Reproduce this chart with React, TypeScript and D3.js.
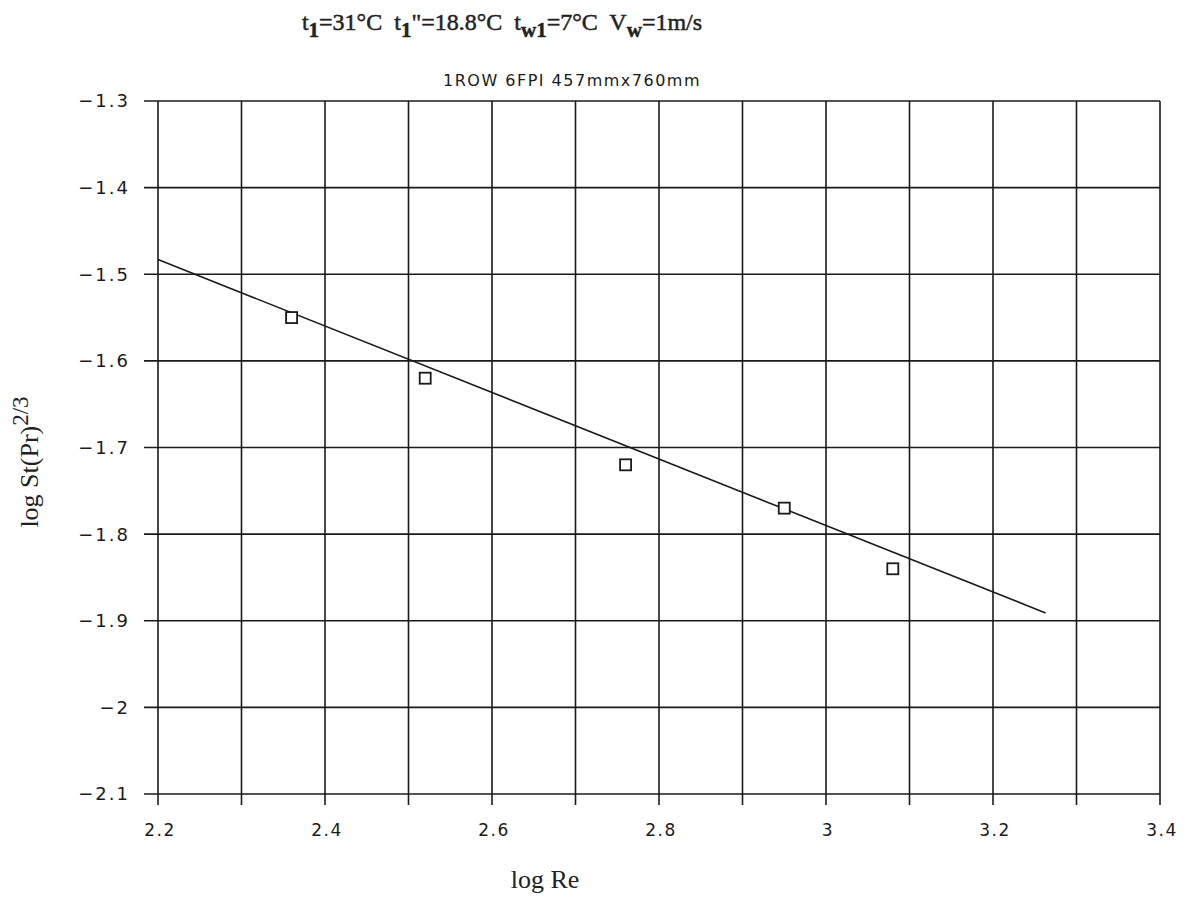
import React, { useEffect, useRef } from 'react';
import * as d3 from 'd3';

// measured points: log Re vs log St(Pr)^2/3
const logRe = [2.36, 2.52, 2.76, 2.95, 3.08];
const logSt = [-1.55, -1.62, -1.72, -1.77, -1.84];

// fitted line end points
const fitRe = [2.2, 3.263];
const fitSt = [-1.483, -1.891];

const xTicks = [2.2, 2.3, 2.4, 2.5, 2.6, 2.7, 2.8, 2.9, 3.0, 3.1, 3.2, 3.3, 3.4];
const xTickLabels = ['2.2', '', '2.4', '', '2.6', '', '2.8', '', '3', '', '3.2', '', '3.4'];
const yTicks = [-1.3, -1.4, -1.5, -1.6, -1.7, -1.8, -1.9, -2.0, -2.1];
const yTickLabels = ['\u22121.3', '\u22121.4', '\u22121.5', '\u22121.6', '\u22121.7', '\u22121.8', '\u22121.9', '\u22122', '\u22122.1'];

const subtitle = '1ROW 6FPI 457mmx760mm';

const App = () => {
  const chartRef = useRef<SVGSVGElement>(null);

  useEffect(() => {
    const svg = d3.select(chartRef.current);
    svg.selectAll('*').remove();

    const left = 158, right = 1160, top = 101, bottom = 794;
    const x = d3.scaleLinear().domain([2.2, 3.4]).range([left, right]);
    const y = d3.scaleLinear().domain([-2.1, -1.3]).range([bottom, top]);

    const ink = '#1a1a1a';
    const plotFont = '"DejaVu Sans", sans-serif';
    const serif = '"Liberation Serif", serif';

    // vertical grid lines, running past the bottom as ticks
    svg.append('g')
      .selectAll('line')
      .data(xTicks)
      .enter()
      .append('line')
      .attr('x1', d => x(d))
      .attr('x2', d => x(d))
      .attr('y1', top)
      .attr('y2', bottom + 11)
      .attr('stroke', ink)
      .attr('stroke-width', 1.6);

    // horizontal grid lines, running past the left edge as ticks
    svg.append('g')
      .selectAll('line')
      .data(yTicks)
      .enter()
      .append('line')
      .attr('x1', left - 14)
      .attr('x2', right)
      .attr('y1', d => y(d))
      .attr('y2', d => y(d))
      .attr('stroke', ink)
      .attr('stroke-width', 1.6);

    // tick labels
    svg.append('g')
      .selectAll('text')
      .data(xTicks)
      .enter()
      .append('text')
      .attr('x', d => x(d) + 2)
      .attr('y', bottom + 42)
      .attr('text-anchor', 'middle')
      .style('font-family', plotFont)
      .style('font-size', '17px')
      .style('letter-spacing', '1.5px')
      .style('fill', ink)
      .text((d, i) => xTickLabels[i]);

    svg.append('g')
      .selectAll('text')
      .data(yTicks)
      .enter()
      .append('text')
      .attr('x', left - 28)
      .attr('y', d => y(d))
      .attr('dy', '0.36em')
      .attr('text-anchor', 'end')
      .style('font-family', plotFont)
      .style('font-size', '18px')
      .style('letter-spacing', '2px')
      .style('fill', ink)
      .text((d, i) => yTickLabels[i]);

    // fitted line
    const line = d3.line<number>()
      .x(d => x(fitRe[d]))
      .y(d => y(fitSt[d]));
    svg.append('path')
      .attr('d', line([0, 1]))
      .attr('fill', 'none')
      .attr('stroke', ink)
      .attr('stroke-width', 1.6);

    // square markers
    const s = 11;
    svg.append('g')
      .selectAll('rect')
      .data(logRe)
      .enter()
      .append('rect')
      .attr('x', d => x(d) - s / 2)
      .attr('y', (d, i) => y(logSt[i]) - s / 2)
      .attr('width', s)
      .attr('height', s)
      .attr('fill', 'white')
      .attr('stroke', ink)
      .attr('stroke-width', 1.8);

    // subtitle
    svg.append('text')
      .attr('x', 572)
      .attr('y', 86)
      .attr('text-anchor', 'middle')
      .style('font-family', plotFont)
      .style('font-size', '16px')
      .style('letter-spacing', '1.5px')
      .style('fill', ink)
      .text(subtitle);

    // title with subscripts
    const title = svg.append('text')
      .attr('x', 502)
      .attr('y', 30)
      .attr('text-anchor', 'middle')
      .style('font-family', serif)
      .style('font-size', '24px')
      .style('white-space', 'pre')
      .style('fill', '#222')
      .style('stroke', '#222')
      .style('stroke-width', '0.5px');
    const parts: [string, boolean][] = [
      ['t', false], ['1', true], ['=31\u00b0C  t', false], ['1', true],
      ['"=18.8\u00b0C  t', false], ['w1', true], ['=7\u00b0C  V', false], ['w', true], ['=1m/s', false],
    ];
    parts.forEach(([t, sub], i) => {
      const prevSub = i > 0 && parts[i - 1][1];
      title.append('tspan')
        .attr('dy', sub ? 7 : prevSub ? -7 : 0)
        .style('font-size', sub ? '21px' : null)
        .style('font-weight', sub ? 'bold' : null)
        .text(t);
    });

    // x axis label
    svg.append('text')
      .attr('x', 545)
      .attr('y', 888)
      .attr('text-anchor', 'middle')
      .style('font-family', serif)
      .style('font-size', '26px')
      .style('fill', '#222')
      .text('log Re');

    // y axis label
    const yl = svg.append('text')
      .attr('transform', 'translate(38,462) rotate(-90)')
      .attr('text-anchor', 'middle')
      .style('font-family', serif)
      .style('font-size', '26px')
      .style('fill', '#222');
    yl.append('tspan').text('log St(Pr)');
    yl.append('tspan').attr('dy', -10).style('font-size', '23px').text('2/3');
  }, []);

  return (
    <svg
      ref={chartRef}
      width={1187}
      height={903}
      style={{ position: 'absolute', left: 0, top: 0, background: 'white' }}
    />
  );
};

export default App;
